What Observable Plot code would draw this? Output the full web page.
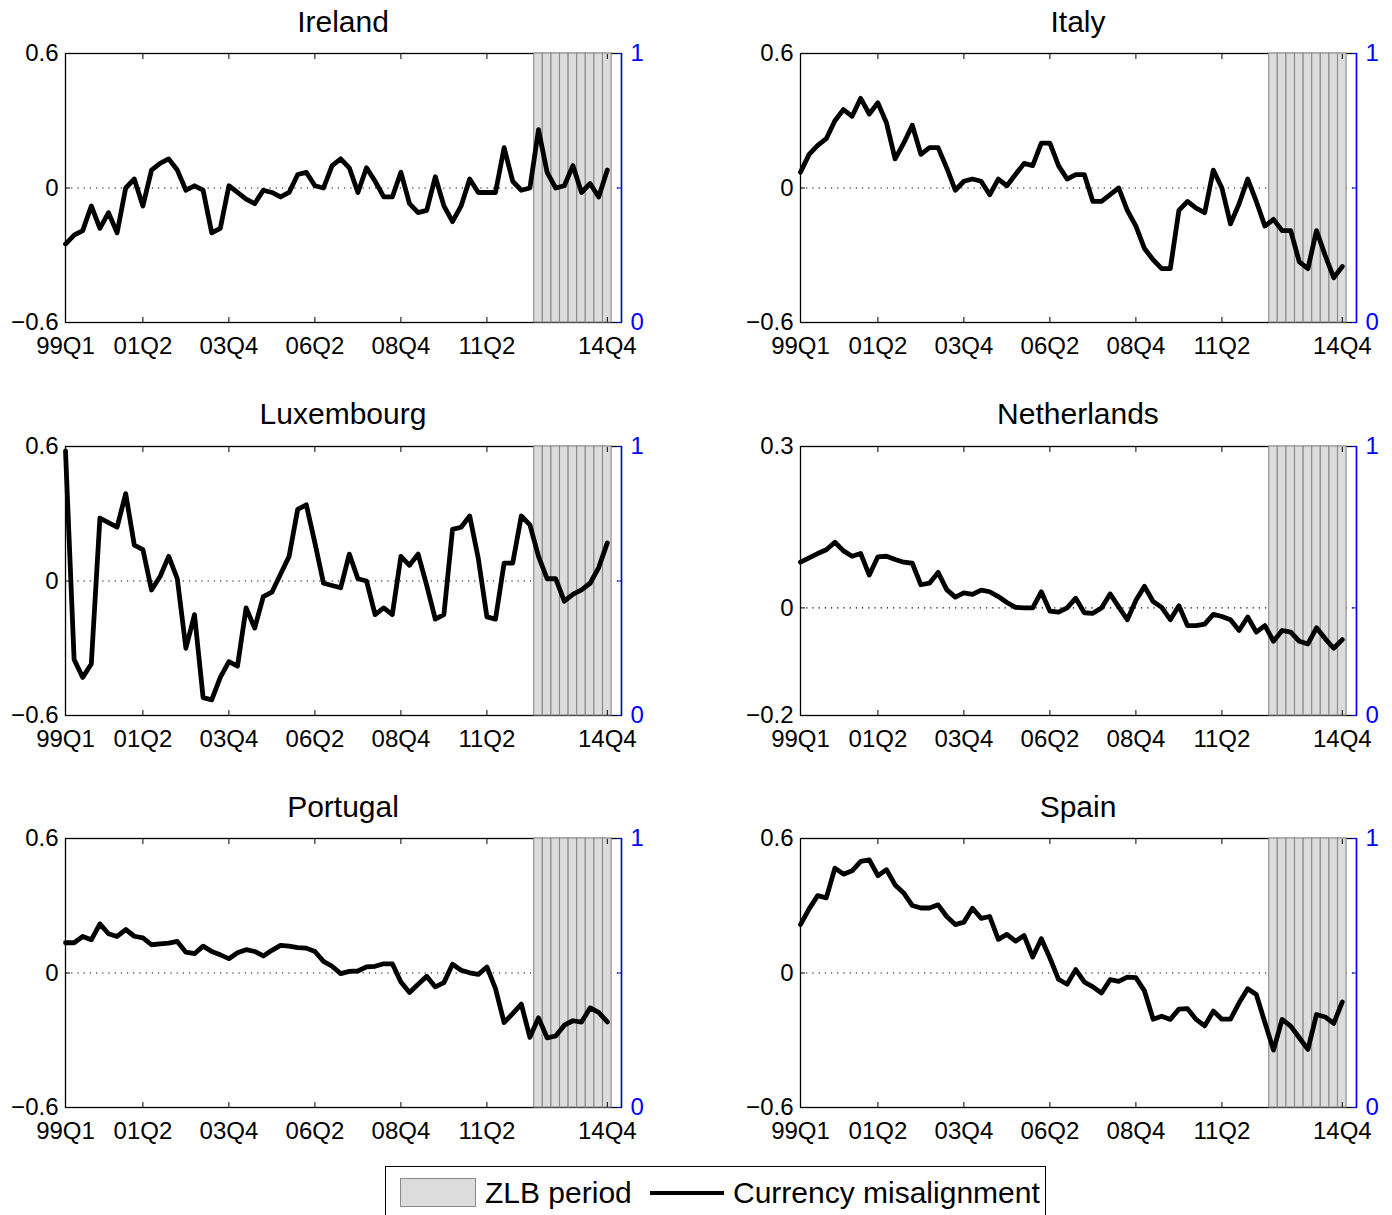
<!DOCTYPE html>
<html>
<head>
<meta charset="utf-8">
<script src="https://cdn.jsdelivr.net/npm/d3@7"></script>
<script src="https://cdn.jsdelivr.net/npm/@observablehq/plot@0.6"></script>
<style>
  html, body { margin: 0; padding: 0; background: #fff; }
  body { font-family: "Liberation Sans", Arial, Helvetica, sans-serif; }
  #page { position: relative; width: 1392px; height: 1215px; overflow: hidden; background: #fff; }
  .panel { position: absolute; }
  .panel svg { max-width: none !important; }
  .title { position: absolute; width: 556px; text-align: center; font-size: 30px; line-height: 30px; color: #000; }
  #legend { position: absolute; left: 385px; top: 1166px; width: 661px; height: 60px; border: 1.5px solid #000; box-sizing: border-box; background: #fff; }
  #legend .sw { position: absolute; left: 14px; top: 11px; width: 76px; height: 29px; background: #dcdcdc; border: 1px solid #8a8a8a; box-sizing: border-box; }
  #legend .ln { position: absolute; left: 264px; top: 24px; width: 74px; height: 4px; background: #000; }
  #legend .tx { position: absolute; top: 10px; font-size: 30px; line-height: 32px; white-space: nowrap; }
</style>
</head>
<body>
<div id="page"></div>
<script>
// ---- data (quarterly, 1999Q1 .. 2014Q4, 64 quarters) ----
const countries = ["Ireland", "Italy", "Luxembourg", "Netherlands", "Portugal", "Spain"];

const ireland = [-0.25,-0.21,-0.19,-0.08,-0.18,-0.11,-0.20,0.00,0.04,-0.08,
  0.08,0.11,0.13,0.08,-0.01,0.01,-0.01,-0.20,-0.18,0.01,
  -0.02,-0.05,-0.07,-0.01,-0.02,-0.04,-0.02,0.06,0.07,0.01,
  0.00,0.10,0.13,0.09,-0.02,0.09,0.03,-0.04,-0.04,0.07,
  -0.07,-0.11,-0.10,0.05,-0.08,-0.15,-0.08,0.04,-0.02,-0.02,
  -0.02,0.18,0.03,-0.01,0.00,0.26,0.07,0.00,0.01,0.10,
  -0.02,0.02,-0.04,0.08];

const italy = [0.07,0.15,0.19,0.22,0.30,0.35,0.32,0.40,0.33,0.38,
  0.29,0.13,0.20,0.28,0.15,0.18,0.18,0.09,-0.01,0.03,
  0.04,0.03,-0.03,0.04,0.01,0.06,0.11,0.10,0.20,0.20,
  0.10,0.04,0.06,0.06,-0.06,-0.06,-0.03,0.00,-0.10,-0.17,
  -0.27,-0.32,-0.36,-0.36,-0.10,-0.06,-0.09,-0.11,0.08,0.00,
  -0.16,-0.07,0.04,-0.06,-0.17,-0.14,-0.19,-0.19,-0.33,-0.36,
  -0.19,-0.30,-0.40,-0.35];

const luxembourg = [0.58,-0.35,-0.43,-0.37,0.28,0.26,0.24,0.39,0.16,0.14,
  -0.04,0.02,0.11,0.01,-0.30,-0.15,-0.52,-0.53,-0.43,-0.36,
  -0.38,-0.12,-0.21,-0.07,-0.05,0.03,0.11,0.32,0.34,0.17,
  -0.01,-0.02,-0.03,0.12,0.01,0.00,-0.15,-0.12,-0.15,0.11,
  0.07,0.12,-0.02,-0.17,-0.15,0.23,0.24,0.29,0.10,-0.16,
  -0.17,0.08,0.08,0.29,0.25,0.11,0.01,0.01,-0.09,-0.06,
  -0.04,-0.01,0.06,0.17];

const netherlands = [0.085,0.093,0.101,0.108,0.122,0.106,0.096,0.101,0.061,0.095,
  0.096,0.090,0.085,0.083,0.043,0.046,0.066,0.034,0.020,0.028,
  0.025,0.033,0.030,0.021,0.010,0.001,0.000,0.000,0.030,-0.006,
  -0.008,0.000,0.018,-0.009,-0.010,0.000,0.026,0.002,-0.022,0.014,
  0.040,0.012,0.001,-0.022,0.004,-0.033,-0.033,-0.030,-0.012,-0.016,
  -0.022,-0.042,-0.017,-0.045,-0.033,-0.062,-0.042,-0.045,-0.062,-0.067,
  -0.037,-0.057,-0.075,-0.059];

const portugal = [0.135,0.135,0.163,0.148,0.219,0.175,0.163,0.194,0.164,0.157,
  0.126,0.130,0.133,0.141,0.093,0.086,0.120,0.096,0.081,0.064,
  0.090,0.104,0.096,0.076,0.101,0.123,0.120,0.113,0.111,0.096,
  0.052,0.030,-0.003,0.007,0.009,0.027,0.030,0.041,0.041,-0.040,
  -0.087,-0.050,-0.015,-0.062,-0.043,0.039,0.012,0.001,-0.006,0.027,
  -0.070,-0.221,-0.181,-0.139,-0.287,-0.200,-0.289,-0.281,-0.233,-0.213,
  -0.219,-0.156,-0.176,-0.218];

const spain = [0.216,0.286,0.345,0.335,0.468,0.441,0.456,0.498,0.505,0.434,
  0.461,0.393,0.357,0.301,0.290,0.290,0.304,0.252,0.216,0.227,
  0.289,0.244,0.252,0.150,0.172,0.142,0.167,0.071,0.153,0.067,
  -0.028,-0.050,0.015,-0.040,-0.062,-0.089,-0.030,-0.037,-0.018,-0.021,
  -0.080,-0.206,-0.193,-0.207,-0.161,-0.159,-0.207,-0.236,-0.170,-0.206,
  -0.206,-0.133,-0.070,-0.096,-0.221,-0.344,-0.207,-0.237,-0.289,-0.341,
  -0.185,-0.196,-0.225,-0.129];

const seriesByCountry = [ireland, italy, luxembourg, netherlands, portugal, spain];

// x tick positions (quarter index from 1999Q1) and their labels
const xTickIndex = [0, 9, 19, 29, 39, 49, 63];
const xTickLabels = ["99Q1", "01Q2", "03Q4", "06Q2", "08Q4", "11Q2", "14Q4"];

// ZLB period quarters (index from 1999Q1): 2012Q4 .. 2014Q4
const zlbQuarterIndex = [55, 56, 57, 58, 59, 60, 61, 62, 63];

// y domains and tick labels per panel
const yDomains = [[-0.6, 0.6], [-0.6, 0.6], [-0.6, 0.6], [-0.2, 0.3], [-0.6, 0.6], [-0.6, 0.6]];
const yTickLabels = [
  ["\u22120.6", "0", "0.6"], ["\u22120.6", "0", "0.6"], ["\u22120.6", "0", "0.6"],
  ["\u22120.2", "0", "0.3"], ["\u22120.6", "0", "0.6"], ["\u22120.6", "0", "0.6"]
];
const rightTickLabels = ["0", "", "1"];

const xMax = 64.65;

// ---- layout ----
const frameW = 556, frameH = 269;
const ML = 70, MR = 34, MT = 12, MB = 46;
const colLeft = [65, 800];
const rowTop = [53, 446, 838];
const titleY = [7, 399, 792];

const page = document.getElementById("page");
const FONT = "'Liberation Sans', Arial, Helvetica, sans-serif";

countries.forEach((name, k) => {
  const col = k % 2, row = Math.floor(k / 2);
  const values = seriesByCountry[k];
  const dom = yDomains[k];
  const yTicks = [dom[0], 0, dom[1]];
  const data = values.map((v, i) => ({q: i, v}));
  const W = ML + frameW + MR, H = MT + frameH + MB;

  const chart = Plot.plot({
    width: W,
    height: H,
    marginLeft: ML, marginRight: MR, marginTop: MT, marginBottom: MB,
    style: {fontFamily: FONT, fontSize: "24px", background: "transparent", overflow: "visible", color: "black", maxWidth: "none"},
    x: {domain: [0, xMax], label: null},
    y: {domain: dom, label: null},
    marks: [
      Plot.frame({stroke: "black", strokeWidth: 1.3}),
      Plot.ruleY([0], {stroke: "black", strokeWidth: 1.1, strokeDasharray: "1.2,5"}),
      Plot.rect(zlbQuarterIndex, {x1: d => d - 0.5, x2: d => d + 0.5, fill: "#dcdcdc", stroke: "#8a8a8a", strokeWidth: 1.1}),
      Plot.line(data, {x: "q", y: "v", stroke: "black", strokeWidth: 4.8, strokeLinejoin: "round"}),
      Plot.axisX({ticks: xTickIndex, tickFormat: d => xTickLabels[xTickIndex.indexOf(d)], tickSize: -5, tickPadding: 19, fontSize: 24, label: null}),
      Plot.axisX({anchor: "top", ticks: xTickIndex, tickFormat: () => "", tickSize: -5, label: null}),
      Plot.axisY({ticks: yTicks, tickFormat: d => yTickLabels[k][yTicks.indexOf(d)], tickSize: -5, tickPadding: 12, fontSize: 24, label: null}),
      Plot.ruleX([xMax], {stroke: "#0000ff", strokeWidth: 1.4}),
      Plot.axisY({anchor: "right", ticks: yTicks, tickFormat: d => rightTickLabels[yTicks.indexOf(d)], tickSize: -5, tickPadding: 14, fontSize: 24, color: "#0000ff", label: null})
    ]
  });

  const div = document.createElement("div");
  div.className = "panel";
  div.style.left = (colLeft[col] - ML) + "px";
  div.style.top = (rowTop[row] - MT) + "px";
  div.style.width = W + "px";
  div.style.height = H + "px";
  div.appendChild(chart);
  page.appendChild(div);

  const t = document.createElement("div");
  t.className = "title";
  t.style.left = colLeft[col] + "px";
  t.style.top = titleY[row] + "px";
  t.textContent = name;
  page.appendChild(t);
});

// legend
const legend = document.createElement("div");
legend.id = "legend";
legend.innerHTML = '<div class="sw"></div><div class="tx" style="left:99px">ZLB period</div>' +
  '<div class="ln"></div><div class="tx" style="left:347px">Currency misalignment</div>';
page.appendChild(legend);
</script>
</body>
</html>
